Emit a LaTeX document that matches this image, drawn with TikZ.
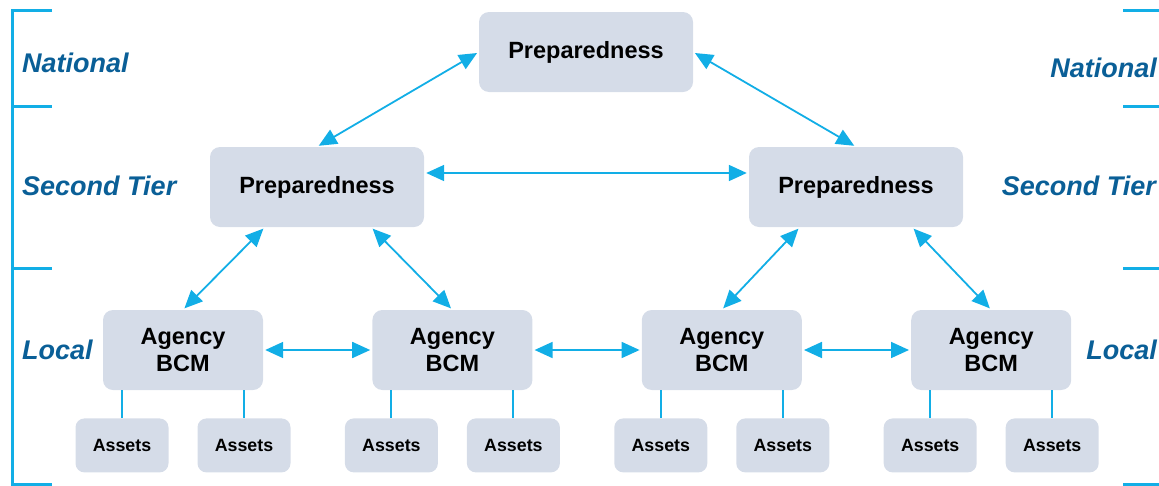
\documentclass[tikz,border=0pt]{standalone}
\usepackage{fontspec}
\setmainfont{Liberation Sans}
\usepackage{tikz}
\usetikzlibrary{positioning,arrows.meta}
\definecolor{boxfill}{HTML}{D5DCE8}
\definecolor{linkcol}{HTML}{12AEE6}
\definecolor{tiercol}{HTML}{0A5F97}
\tikzstyle{prep}=[rectangle, rounded corners=10pt, fill=boxfill, text centered, text=black, minimum width=214pt, minimum height=80pt, inner sep=0pt, font=\fontsize{23.5}{27}\selectfont\bfseries]
\tikzstyle{agency}=[rectangle, rounded corners=10pt, fill=boxfill, text centered, align=center, text=black, minimum width=160pt, minimum height=80pt, inner sep=0pt, font=\fontsize{23.5}{27}\selectfont\bfseries]
\tikzstyle{asset}=[rectangle, rounded corners=9pt, fill=boxfill, text centered, text=black, minimum width=93pt, minimum height=54pt, inner sep=0pt, anchor=north, font=\fontsize{17.8}{21}\selectfont\bfseries]
\tikzstyle{tier}=[text=tiercol, inner sep=0pt, font=\fontsize{27}{31}\selectfont\bfseries\itshape]
\tikzstyle{link}=[draw=linkcol, line width=1.8pt, {Triangle[length=18pt,width=16pt]}-{Triangle[length=18pt,width=16pt]}, shorten <=2pt, shorten >=2pt]
\tikzstyle{stem}=[draw=linkcol, line width=2pt]
\tikzstyle{bracket}=[draw=linkcol, line width=3pt]

\begin{document}
\begin{tikzpicture}[x=1pt,y=-1pt]
    \useasboundingbox (0,0) rectangle (1159,485);
        % level brackets
        \draw[bracket] (52,10) -- (12,10) -- (12,490);
        \foreach \ty in {106,268,484} {
            \draw[bracket] (12,\ty) -- (52,\ty);
        }
        \draw[bracket] (1123,10) -- (1162,10) -- (1162,490);
        \foreach \ty in {106,268,484} {
            \draw[bracket] (1123,\ty) -- (1162,\ty);
        }
        % level names
        \node(natL)[tier, anchor=west] at (22,63) {National};
        \node(secL)[tier, anchor=west] at (22,186) {Second Tier};
        \node(locL)[tier, anchor=west] at (22,350) {Local};
        \node(natR)[tier, anchor=east] at (1157,68) {National};
        \node(secR)[tier, anchor=east] at (1156,186) {Second Tier};
        \node(locR)[tier, anchor=east] at (1157,350) {Local};
        % preparedness
        \node(national)[prep] at (586,52) {Preparedness};
        \node(tierL)[prep] at (317,187) {Preparedness};
        \node(tierR)[prep] at (856,187) {Preparedness};
        % agencies
        \node(agency1)[agency] at (183,350) {Agency\\BCM};
        \node(agency2)[agency, right=109pt of agency1] {Agency\\BCM};
        \node(agency3)[agency, right=109pt of agency2] {Agency\\BCM};
        \node(agency4)[agency, right=109pt of agency3] {Agency\\BCM};
        % assets under every agency
        \foreach \ag in {1,2,3,4} {
            \node(assetA\ag)[asset, below=28pt of agency\ag.south, xshift=-61pt] {Assets};
            \node(assetB\ag)[asset, below=28pt of agency\ag.south, xshift=61pt] {Assets};
            \draw[stem] (assetA\ag.north |- agency\ag.south) -- (assetA\ag.north);
            \draw[stem] (assetB\ag.north |- agency\ag.south) -- (assetB\ag.north);
        }
        % links
        \draw[link] (national.west) -- (tierL.north);
        \draw[link] (national.east) -- (tierR.north);
        \draw[link] ([yshift=14pt]tierL.east) -- ([yshift=14pt]tierR.west);
        \draw[link] ([xshift=55pt]tierL.south west) -- (agency1.north);
        \draw[link] ([xshift=-53pt]tierL.south east) -- (agency2.north);
        \draw[link] ([xshift=51pt]tierR.south west) -- (agency3.north);
        \draw[link] ([xshift=-51pt]tierR.south east) -- (agency4.north);
        \draw[link] (agency1.east) -- (agency2.west);
        \draw[link] (agency2.east) -- (agency3.west);
        \draw[link] (agency3.east) -- (agency4.west);
    \end{tikzpicture}
\end{document}
